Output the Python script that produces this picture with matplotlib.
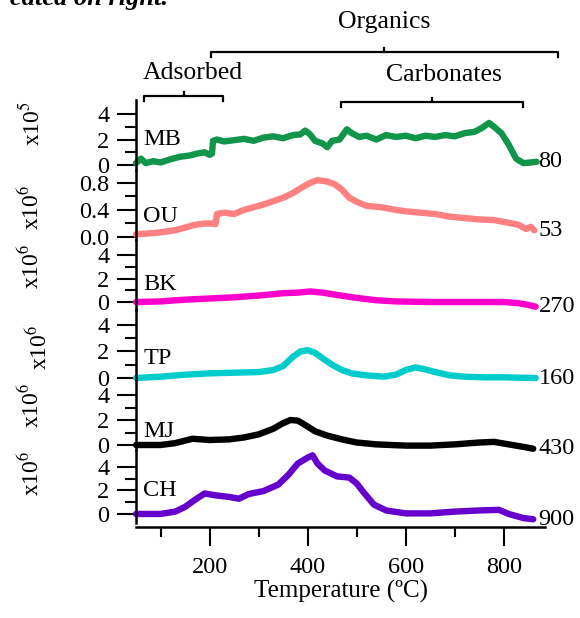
import matplotlib
matplotlib.use("Agg")
import matplotlib.pyplot as plt
import matplotlib.transforms as mtransforms
from matplotlib.ticker import FormatStrFormatter

plt.rcParams["font.family"] = "serif"
plt.rcParams["font.serif"] = ["Liberation Serif", "DejaVu Serif"]
plt.rcParams["mathtext.fontset"] = "stix"

# ---- data (temperature in degC, signal in panel units) ----
SAMPLES = ["MB", "OU", "BK", "TP", "MJ", "CH"]
SCALE_LABELS = ["x10$^{5}$", "x10$^{6}$", "x10$^{6}$", "x10$^{6}$", "x10$^{6}$", "x10$^{6}$"]
RIGHT_LABELS = ["80", "53", "270", "160", "430", "900"]

MB_T = [50, 60, 70, 85, 100, 120, 140, 160, 175, 190, 200, 205, 207, 215, 230, 250, 270, 290,
        310, 330, 350, 370, 385, 395, 405, 415, 430, 440, 450, 465, 480, 490, 505, 520, 540,
        560, 580, 600, 620, 640, 660, 680, 700, 720, 740, 755, 770, 780, 795, 810, 825, 840,
        855, 867]
MB_Y = [0.15, 0.5, 0.15, 0.3, 0.2, 0.45, 0.65, 0.75, 0.9, 1.0, 0.8, 0.9, 1.9, 2.0, 1.85, 1.95,
        2.05, 1.9, 2.15, 2.25, 2.1, 2.35, 2.4, 2.7, 2.4, 1.9, 1.7, 1.4, 1.9, 2.0, 2.8, 2.5, 2.2,
        2.3, 2.0, 2.35, 2.2, 2.3, 2.1, 2.3, 2.2, 2.35, 2.25, 2.5, 2.6, 2.9, 3.3, 3.0, 2.5, 1.6,
        0.5, 0.15, 0.2, 0.25]

OU_T = [50, 70, 90, 110, 130, 150, 170, 190, 205, 212, 215, 230, 250, 270, 290, 310, 330, 350,
        370, 390, 405, 420, 440, 455, 470, 485, 500, 520, 550, 580, 600, 630, 660, 690, 720,
        750, 780, 810, 830, 845, 855, 862]
OU_Y = [0.04, 0.05, 0.06, 0.08, 0.1, 0.14, 0.18, 0.2, 0.2, 0.19, 0.34, 0.36, 0.34, 0.4, 0.44,
        0.48, 0.53, 0.58, 0.65, 0.74, 0.8, 0.84, 0.82, 0.78, 0.7, 0.58, 0.52, 0.46, 0.44, 0.4,
        0.38, 0.36, 0.34, 0.3, 0.28, 0.26, 0.25, 0.21, 0.18, 0.12, 0.15, 0.1]

BK_T = [50, 100, 150, 200, 250, 300, 350, 380, 405, 430, 460, 500, 540, 580, 650, 700, 750,
        800, 830, 850, 865]
BK_Y = [0.0, 0.05, 0.2, 0.3, 0.4, 0.55, 0.75, 0.8, 0.9, 0.8, 0.6, 0.35, 0.15, 0.05, 0.0, 0.0,
        0.0, 0.0, -0.1, -0.25, -0.4]

TP_T = [50, 100, 150, 200, 250, 300, 330, 350, 370, 385, 400, 415, 430, 450, 470, 490, 520,
        555, 580, 600, 620, 640, 660, 690, 720, 760, 800, 865]
TP_Y = [0.0, 0.1, 0.25, 0.35, 0.4, 0.45, 0.6, 0.9, 1.6, 2.0, 2.1, 1.9, 1.5, 1.0, 0.6, 0.35,
        0.2, 0.1, 0.25, 0.6, 0.8, 0.65, 0.45, 0.2, 0.1, 0.05, 0.05, 0.0]

MJ_T = [50, 100, 130, 165, 200, 240, 270, 300, 330, 350, 365, 380, 395, 415, 440, 470, 500,
        540, 600, 650, 700, 750, 780, 810, 840, 860]
MJ_Y = [0.0, 0.0, 0.15, 0.5, 0.4, 0.45, 0.6, 0.85, 1.3, 1.75, 2.0, 1.95, 1.6, 1.1, 0.75, 0.45,
        0.2, 0.05, -0.05, -0.05, 0.05, 0.2, 0.25, 0.05, -0.15, -0.3]

CH_T = [50, 100, 130, 150, 170, 190, 210, 240, 260, 280, 310, 340, 360, 380, 400, 410, 420,
        435, 460, 485, 500, 515, 535, 560, 600, 650, 700, 750, 790, 810, 840, 860]
CH_Y = [0.0, 0.0, 0.2, 0.6, 1.2, 1.75, 1.6, 1.45, 1.3, 1.7, 1.95, 2.5, 3.3, 4.3, 4.8, 5.0, 4.3,
        3.7, 3.2, 3.1, 2.6, 1.8, 0.8, 0.3, 0.05, 0.05, 0.2, 0.3, 0.35, 0.0, -0.35, -0.45]

SERIES_T = [MB_T, OU_T, BK_T, TP_T, MJ_T, CH_T]
SERIES_Y = [MB_Y, OU_Y, BK_Y, TP_Y, MJ_Y, CH_Y]

# region brackets above the traces: (label, start degC, end degC, label centre degC)
BRACKET_LABELS = ["Organics", "Adsorbed", "Carbonates"]
BRACKET_START = [202, 67, 469]
BRACKET_END = [910, 227, 839]
BRACKET_TEXT_X = [557, 165, 678]

# ---- layout / style ----
COLORS = ["#10954a", "#ff8080", "#ff00cc", "#00cccc", "#000000", "#6600cc"]
W, H = 580, 618
AX_LEFT, AX_RIGHT = 136, 545
PANEL_TOP = [100, 170, 240, 310, 380, 450]
PANEL_BOT = [170, 240, 310, 380, 450, 523]
PANEL_YLIM = [(-0.39, 5.1), (-0.044, 0.99), (-0.68, 5.28), (-0.15, 5.13), (-0.4, 5.2), (-0.77, 5.45)]
SCALE_POS = [(-0.225, 0.66), (-0.225, 0.47), (-0.225, 0.63), (-0.205, 0.47), (-0.225, 0.64), (-0.225, 0.68)]
LABEL_Y = [2.0, 0.3, 1.45, 1.5, 1.1, 2.0]
BRACKET_Y = [52, 96, 102]
BRACKET_TEXT_Y = [22, 73, 75]
XLIM = (50, 884)
FS = 17.5


def fy(px):
    return 1 - px / H


fig = plt.figure(figsize=(W / 100, H / 100), dpi=100)
axes = []
for i, name in enumerate(SAMPLES):
    ax = fig.add_axes([AX_LEFT / W, fy(PANEL_BOT[i]), (AX_RIGHT - AX_LEFT) / W,
                       (PANEL_BOT[i] - PANEL_TOP[i]) / H])
    ax.patch.set_alpha(0)
    ax.plot(SERIES_T[i], SERIES_Y[i], color=COLORS[i], lw=4.6,
            solid_capstyle="round", solid_joinstyle="round", clip_on=False)
    ax.set_xlim(*XLIM)
    ax.set_ylim(*PANEL_YLIM[i])
    for side in ("top", "right"):
        ax.spines[side].set_visible(False)
    ax.spines["left"].set_linewidth(1.8)
    if name == "OU":
        ax.set_yticks([0, 0.4, 0.8])
        ax.set_yticks([0.2, 0.6], minor=True)
        ax.yaxis.set_major_formatter(FormatStrFormatter("%.1f"))
    else:
        ax.set_yticks([0, 2, 4])
        ax.set_yticks([1, 3], minor=True)
    ax.tick_params(axis="y", which="major", direction="out", length=14, width=1.5,
                   pad=5, labelsize=FS)
    ax.tick_params(axis="y", which="minor", direction="out", length=8, width=1.5)
    if i < len(SAMPLES) - 1:
        ax.spines["bottom"].set_visible(False)
        ax.set_xticks([])
    else:
        ax.spines["bottom"].set_position(("outward", 3))
        ax.spines["bottom"].set_linewidth(1.8)
        ax.set_xticks([200, 400, 600, 800])
        ax.set_xticks([100, 300, 500, 700], minor=True)
        ax.tick_params(axis="x", which="major", direction="out", length=13.5, width=1.5,
                       pad=8, labelsize=FS)
        ax.tick_params(axis="x", which="minor", direction="out", length=7, width=1.5)
        ax.set_xlabel("Temperature (ºC)", fontsize=18, labelpad=1)

    ax.text(65, LABEL_Y[i], name, fontsize=FS, ha="left", va="center")
    ax.text(871, SERIES_Y[i][-1], RIGHT_LABELS[i], fontsize=FS, ha="left", va="center",
            clip_on=False)
    sx, sy = SCALE_POS[i]
    ax.text(sx, sy, SCALE_LABELS[i], transform=ax.transAxes, rotation=90, fontsize=17,
            ha="right", va="center")
    axes.append(ax)

# brackets: x in data (degC), y in figure pixels from top
top = axes[0]
trans = mtransforms.blended_transform_factory(top.transData, fig.transFigure)
for label, x0, x1, tx, by, ty in zip(BRACKET_LABELS, BRACKET_START, BRACKET_END,
                                      BRACKET_TEXT_X, BRACKET_Y, BRACKET_TEXT_Y):
    xm = (x0 + x1) / 2
    top.plot([x0, x0, x1, x1], [fy(by + 5), fy(by), fy(by), fy(by + 5)], color="black",
             lw=1.6, transform=trans, clip_on=False)
    top.plot([xm, xm], [fy(by), fy(by - 4)], color="black", lw=1.6, transform=trans,
             clip_on=False)
    top.text(tx, fy(ty), label, fontsize=18.5, ha="center", va="center", transform=trans)

# tail of the caption that sits above the figure
fig.text(10 / W, fy(5), "cated on right.", fontsize=19, fontweight="bold", fontstyle="italic",
         ha="left", va="baseline")

fig.savefig("out.png", dpi=100)
